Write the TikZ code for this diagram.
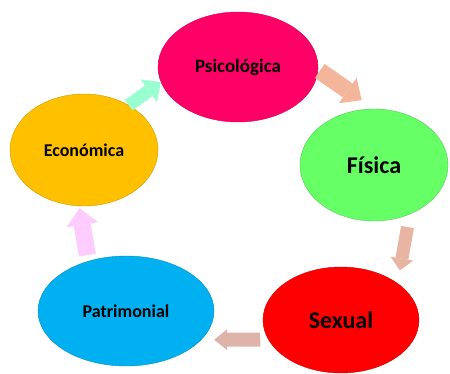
\documentclass[tikz,border=0pt]{standalone}
\usepackage{fontspec}
\setmainfont{Carlito}
\usetikzlibrary{arrows.meta,shapes.geometric}
\definecolor{rosa}{HTML}{FF0066}
\definecolor{verde}{HTML}{66FF66}
\definecolor{rojo}{HTML}{FF0000}
\definecolor{azul}{HTML}{00B0F0}
\definecolor{naranja}{HTML}{FFC000}
\definecolor{menta}{HTML}{99FFD0}
\definecolor{salmon}{HTML}{F4B69A}
\definecolor{salmonb}{HTML}{E9B5A3}
\definecolor{salmonc}{HTML}{DDB3AA}
\definecolor{lila}{HTML}{FFCCFF}
\begin{document}
\begin{tikzpicture}[x=1pt,y=1pt,line join=miter,
  caja/.style={ellipse,draw=#1!80!black,fill=#1,line width=0.4pt,inner sep=0pt,font=\bfseries},
  flecha/.style={line width=15pt,-{Triangle[width=28pt,length=15pt,line width=0pt]}}]
        \useasboundingbox (0,0) rectangle (450,373);
        \node[caja=rosa,minimum width=160pt,minimum height=110pt,font=\bfseries\fontsize{19}{21}\selectfont] (psi) at (238,306) {Psicológica};
        \node[caja=verde,minimum width=148pt,minimum height=112pt,font=\bfseries\fontsize{24}{27}\selectfont] (fis) at (374,208) {Física};
        \node[caja=rojo,minimum width=156pt,minimum height=106pt,font=\bfseries\fontsize{24}{27}\selectfont] (sex) at (341,53) {Sexual};
        \node[caja=azul,minimum width=176pt,minimum height=110pt,font=\bfseries\fontsize{18}{20}\selectfont] (pat) at (126,62) {Patrimonial};
        \node[caja=naranja,minimum width=148pt,minimum height=112pt,font=\bfseries\fontsize{18}{20}\selectfont] (eco) at (84,223) {Económica};
        % flechas entre las elipses
        \draw[flecha,color=menta,line width=13pt] (eco.45) -- (psi.191);
        \draw[flecha,color=salmon,line width=17pt,-{Triangle[width=31pt,length=17pt,line width=0pt]},shorten <=2pt,shorten >=15pt] (psi.-2) -- (fis.90);
        \draw[flecha,color=salmonb,line width=13pt,-{Triangle[width=23pt,length=12pt,line width=0pt]},shorten <=13pt,shorten >=13pt] (fis.-54.5) -- (sex.33);
        \draw[flecha,color=salmonc,line width=14pt,-{Triangle[width=21pt,length=13pt,line width=0pt]},shorten <=8pt,shorten >=13pt] (sex.195.4) -- (pat.-21.2);
        \draw[flecha,color=lila,line width=17pt,-{Triangle[width=32pt,length=17pt,line width=0pt]},shorten <=6pt,shorten >=2pt] (pat.127.4) -- (eco.265.6);
\end{tikzpicture}
\end{document}
